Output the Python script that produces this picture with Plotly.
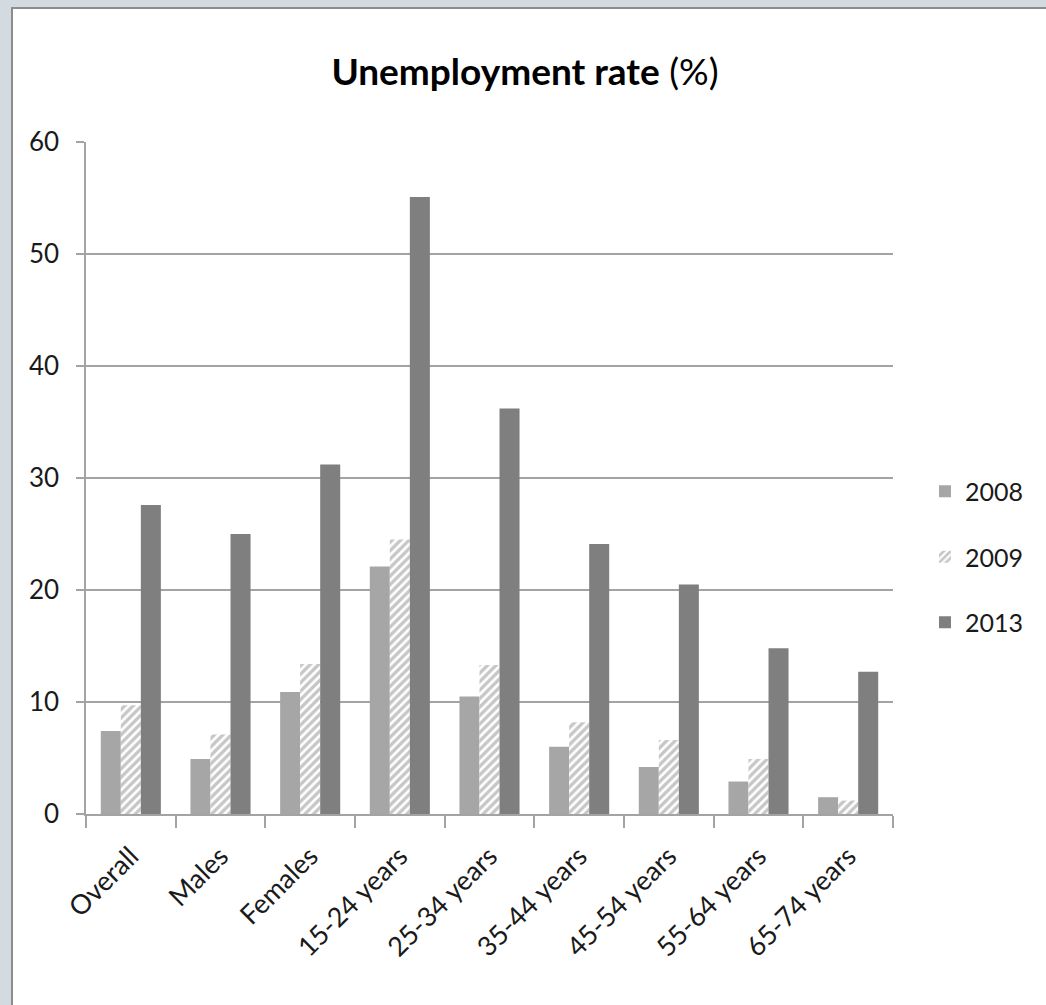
import plotly.graph_objects as go

categories = ["Overall", "Males", "Females", "15-24 years", "25-34 years",
              "35-44 years", "45-54 years", "55-64 years", "65-74 years"]
v2008 = [7.4, 4.9, 10.9, 22.1, 10.5, 6.0, 4.2, 2.9, 1.5]
v2009 = [9.7, 7.1, 13.4, 24.5, 13.3, 8.2, 6.6, 4.9, 1.2]
v2013 = [27.6, 25.0, 31.2, 55.1, 36.2, 24.1, 20.5, 14.8, 12.7]
years = ["2008", "2009", "2013"]

FONT = "Lato"
GRID = "#a3a3a3"
FRAME_BG = "#d3dbe0"

fig = go.Figure()
fig.add_trace(go.Bar(x=categories, y=v2008, name=years[0], legendgroup="a",
                     marker=dict(color="#a6a6a6", line=dict(width=0))))
fig.add_trace(go.Bar(x=categories, y=v2009, name=years[1], legendgroup="b",
                     marker=dict(color="white", line=dict(width=0),
                                 pattern=dict(shape="/", fgcolor="#8e8e8e", bgcolor="white",
                                              size=6, solidity=0.55))))
fig.add_trace(go.Bar(x=categories, y=v2013, name=years[2], legendgroup="c",
                     marker=dict(color="#7f7f7f", line=dict(width=0))))

L, R, T, B = 86, 153, 142, 191
W, H = 1046, 1005
pw, ph = W - L - R, H - T - B

def px_x(p):
    return (p - L) / pw

def px_y(p):
    return (H - B - p) / ph

fig.add_shape(type="rect", xref="paper", yref="paper",
              x0=px_x(12), x1=px_x(1060), y0=px_y(1020), y1=px_y(8),
              fillcolor="white", line=dict(color="#8c8c8c", width=2), layer="below")

fig.update_layout(
    width=W, height=H,
    margin=dict(l=L, r=R, t=T, b=B, autoexpand=False),
    paper_bgcolor=FRAME_BG,
    plot_bgcolor="white",
    barmode="group",
    bargap=0.33,
    bargroupgap=0,
    font=dict(family=FONT, size=25, color="#1a1a1a"),
    title=dict(text="<b>Unemployment rate</b> (%)", x=525 / W, xanchor="center",
               y=1 - 72 / H, yanchor="middle",
               font=dict(family=FONT, size=37, color="#000000")),
    legend=dict(x=px_x(925), xanchor="left", y=px_y(557), yanchor="middle",
                traceorder="grouped", tracegroupgap=30,
                font=dict(family=FONT, size=25, color="#1a1a1a"),
                bgcolor="rgba(0,0,0,0)"),
    xaxis=dict(showline=True, linecolor=GRID, linewidth=1.5,
               ticks="outside", tickson="boundaries", ticklen=12, tickcolor=GRID, tickwidth=1.5,
               tickangle=-45, showgrid=False, ticklabelstandoff=14,
               tickfont=dict(size=27)),
    yaxis=dict(range=[0, 60], dtick=10, showgrid=True, gridcolor=GRID, gridwidth=1.5,
               showline=True, linecolor=GRID, linewidth=1.5,
               ticks="outside", ticklen=8, tickcolor=GRID, tickwidth=1.5,
               zeroline=False, ticklabelstandoff=12, tickfont=dict(size=26)),
)

fig.write_html(
    "out.html",
    config={"displayModeBar": False},
    post_script=("document.body.style.margin='0';"
                 "document.body.style.overflow='hidden';"
                 "document.body.style.background='" + FRAME_BG + "';"),
)
